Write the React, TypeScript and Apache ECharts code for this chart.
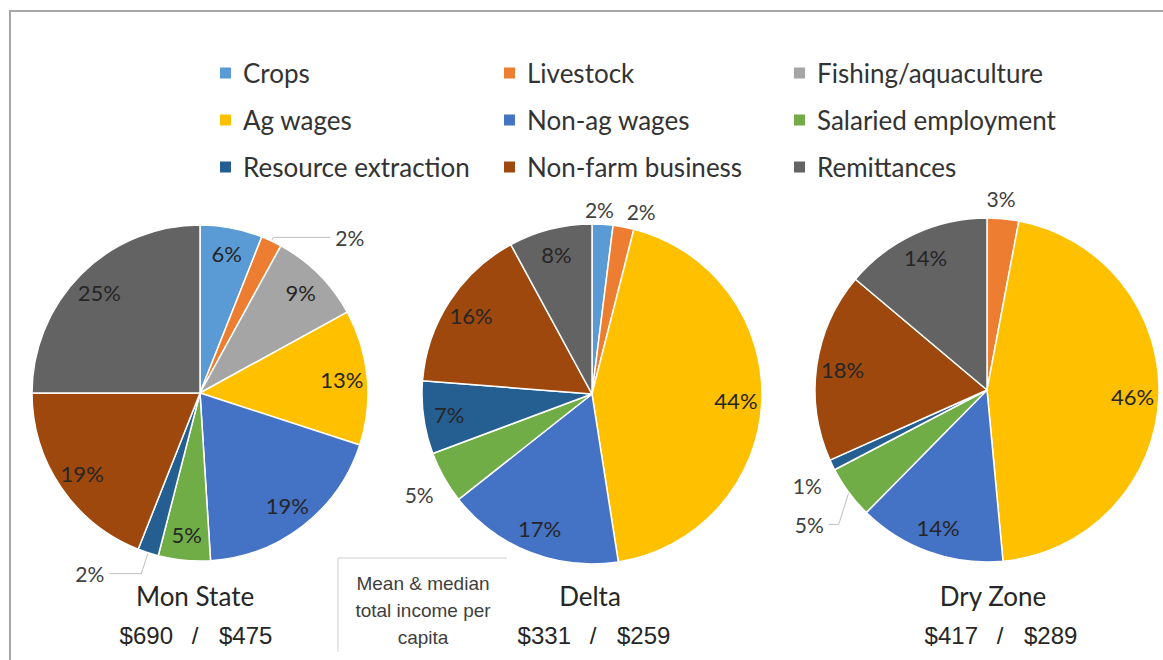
import React, { useEffect, useRef } from 'react';
import * as echarts from 'echarts';

// ---------- data ----------
const categories = [
  'Crops',
  'Livestock',
  'Fishing/aquaculture',
  'Ag wages',
  'Non-ag wages',
  'Salaried employment',
  'Resource extraction',
  'Non-farm business',
  'Remittances',
];
const regionNames = ['Mon State', 'Delta', 'Dry Zone'];
const monStateShares = [6, 2, 9, 13, 19, 5, 2, 19, 25];
const deltaShares = [2, 2, 0, 44, 17, 5, 7, 16, 8];
const dryZoneShares = [0, 3, 0, 46, 14, 5, 1, 18, 14];
const meanIncome = [690, 331, 417];
const medianIncome = [475, 259, 289];
const boxNoteLines = ['Mean & median', 'total income per', 'capita'];
// legend layout: category indices per column
const legendColumns = [
  [0, 3, 6],
  [1, 4, 7],
  [2, 5, 8],
];

// ---------- styles / layout ----------
const COLORS = ['#5B9BD5', '#ED7D31', '#A5A5A5', '#FFC000', '#4472C4', '#70AD47', '#255E91', '#9E480E', '#636363'];
const LEGEND_LEFT = [218, 502, 792];
const PIE_LAYOUT = [
  { center: [200, 393], r: 168, titleX: 195, incomeX: 195 },
  { center: [592, 394], r: 170, titleX: 590, incomeX: 593 },
  { center: [987, 390], r: 172, titleX: 993, incomeX: 1000 },
];
type OutsideCfg = { line: boolean; length: number; length2: number; dx: number; dy: number };
const OUTSIDE: Record<number, OutsideCfg>[] = [
  {
    1: { line: true, length: 4, length2: 57, dx: 0, dy: 0 },
    6: { line: true, length: 22, length2: 32, dx: 0, dy: 0 },
  },
  {
    0: { line: false, length: 6, length2: 0, dx: -23, dy: -9 },
    1: { line: false, length: 6, length2: 0, dx: -3, dy: -10 },
    5: { line: false, length: 6, length2: 0, dx: 0, dy: 14 },
  },
  {
    1: { line: false, length: 6, length2: 0, dx: -22, dy: -14 },
    6: { line: false, length: 6, length2: 0, dx: 0, dy: 18 },
    5: { line: true, length: 10, length2: 10, dx: -2, dy: 26 },
  },
];
const LABEL_FONT = 'Lato';
const TEXT_DARK = '#262626';

function buildOption() {
  const shares = [monStateShares, deltaShares, dryZoneShares];
  const mainSeries: any[] = [];
  const overlaySeries: any[] = [];

  shares.forEach((vals, ri) => {
    const layout = PIE_LAYOUT[ri];
    const outside = OUTSIDE[ri];
    const idx = categories.map((_, i) => i).filter((i) => vals[i] > 0);

    mainSeries.push({
      type: 'pie',
      name: regionNames[ri],
      center: layout.center,
      radius: [0, layout.r],
      startAngle: 90,
      clockwise: true,
      avoidLabelOverlap: false,
      emphasis: { disabled: true },
      itemStyle: { borderColor: '#ffffff', borderWidth: 1.5 },
      label: { fontFamily: LABEL_FONT, fontSize: 21, color: '#404040', formatter: '{c}%' },
      labelLine: { lineStyle: { color: '#bfbfbf', width: 1 } },
      labelLayout: (p: any) => {
        const o = outside[idx[p.dataIndex]];
        if (!o) return {};
        const res: any = { dx: o.dx, dy: o.dy };
        if (o.line && p.labelLinePoints && (o.dx || o.dy)) {
          res.labelLinePoints = p.labelLinePoints.map((pt: number[], k: number) =>
            k === 0 ? [pt[0], pt[1]] : [pt[0] + o.dx, pt[1] + o.dy]
          );
        }
        return res;
      },
      data: idx.map((i) => {
        const o = outside[i];
        return {
          name: categories[i],
          value: vals[i],
          itemStyle: { color: COLORS[i] },
          label: o ? { show: true, position: 'outside' } : { show: false },
          labelLine: o ? { show: o.line, length: o.length, length2: o.length2 } : { show: false },
        };
      }),
    });

    overlaySeries.push({
      type: 'pie',
      name: regionNames[ri] + ' labels',
      center: layout.center,
      radius: [layout.r * 0.66, layout.r],
      startAngle: 90,
      clockwise: true,
      silent: true,
      avoidLabelOverlap: false,
      z: 5,
      itemStyle: { color: 'rgba(0,0,0,0)', borderWidth: 0 },
      label: {
        show: true,
        position: 'inside',
        fontFamily: LABEL_FONT,
        fontSize: 22,
        color: TEXT_DARK,
        formatter: '{c}%',
      },
      labelLine: { show: false },
      data: idx.map((i) => ({ name: categories[i], value: vals[i], label: { show: !outside[i] } })),
    });
  });

  const graphics: any[] = [
    {
      type: 'polyline',
      shape: { points: [[10, 660], [10, 11], [1163, 11]] },
      style: { stroke: '#a6a6a6', lineWidth: 2, fill: 'none' },
      silent: true,
    },
    {
      type: 'polyline',
      shape: { points: [[338, 652], [338, 558], [507, 558]] },
      style: { stroke: '#d0d0d0', lineWidth: 1, fill: 'none' },
      silent: true,
    },
  ];
  boxNoteLines.forEach((t, k) => {
    graphics.push({
      type: 'text',
      x: 423,
      y: 583 + k * 27,
      style: {
        text: t,
        fontFamily: 'Liberation Sans',
        fontSize: 19,
        fill: '#404040',
        textAlign: 'center',
        align: 'center',
        textVerticalAlign: 'middle',
        verticalAlign: 'middle',
      },
    });
  });
  regionNames.forEach((name, ri) => {
    const cx = PIE_LAYOUT[ri].titleX;
    const ix = PIE_LAYOUT[ri].incomeX;
    graphics.push({
      type: 'text',
      x: cx,
      y: 596,
      style: {
        text: name,
        fontFamily: LABEL_FONT,
        fontSize: 26,
        fill: TEXT_DARK,
        textAlign: 'center',
        align: 'center',
        textVerticalAlign: 'middle',
        verticalAlign: 'middle',
      },
    });
    const incomeParts = [
      { text: '$' + meanIncome[ri], x: ix - 22, align: 'right' },
      { text: '/', x: ix, align: 'center' },
      { text: '$' + medianIncome[ri], x: ix + 24, align: 'left' },
    ];
    incomeParts.forEach((p) => {
      graphics.push({
        type: 'text',
        x: p.x,
        y: 635,
        style: {
          text: p.text,
          fontFamily: 'Liberation Sans',
          fontSize: 24,
          fill: TEXT_DARK,
          textAlign: p.align,
          align: p.align,
          textVerticalAlign: 'middle',
          verticalAlign: 'middle',
        },
      });
    });
  });

  return {
    animation: false,
    backgroundColor: '#ffffff',
    legend: legendColumns.map((col, ci) => ({
      orient: 'vertical',
      left: LEGEND_LEFT[ci],
      top: 58,
      padding: 0,
      itemWidth: 13,
      itemHeight: 13,
      itemGap: 17,
      icon: 'rect',
      selectedMode: false,
      data: col.map((i) => categories[i]),
      textStyle: { fontFamily: LABEL_FONT, fontSize: 26, color: '#333333', lineHeight: 30, padding: [0, 0, 0, 6] },
    })),
    series: [...mainSeries, ...overlaySeries],
    graphic: graphics,
  };
}

export default function App() {
  const ref = useRef<HTMLDivElement>(null);
  useEffect(() => {
    const chart = echarts.init(ref.current!, null, { renderer: 'svg' });
    chart.setOption(buildOption() as any);
    return () => chart.dispose();
  }, []);
  return (
    <div
      ref={ref}
      style={{ position: 'fixed', left: 0, top: 0, width: 1163, height: 660, background: '#fff' }}
    />
  );
}
